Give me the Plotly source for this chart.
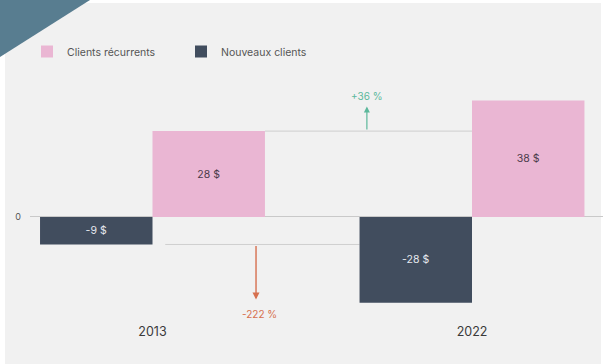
import plotly.graph_objects as go

years = ["2013", "2022"]
recurrents = [28, 38]
nouveaux = [-9, -28]
rec_labels = ["28 $", "38 $"]
new_labels = ["-9 $", "-28 $"]
change_rec = "+36 %"
change_new = "-222 %"

W, H = 603, 364
L, R, T, B = 30, 0, 30, 46
pw, ph = W - L - R, H - T - B
x_range = [-0.3834, 1.41]
y_range = [-33, 61]
bargap = 0.296
half = (1 - bargap) / 2

PINK = "#eab6d3"
NAVY = "#414d5e"
GREEN = "#5cb89b"
RED = "#d6704f"

xs = list(range(len(years)))

fig = go.Figure()
fig.add_trace(go.Bar(
    x=xs, y=nouveaux, name="Nouveaux clients", marker_color=NAVY, legend="legend2", showlegend=True,
    text=new_labels, textposition="inside", insidetextanchor="middle",
    textfont=dict(color="#e6e9ee", size=10.5, family="Inter"), marker_line_width=0,
))
fig.add_trace(go.Bar(
    x=xs, y=recurrents, name="Clients récurrents", marker_color=PINK, legend="legend", showlegend=True,
    text=rec_labels, textposition="inside", insidetextanchor="middle",
    textfont=dict(color="#4a3b4a", size=10.5, family="Inter"), marker_line_width=0,
))

def px_x(p):
    return (p - L) / pw

def px_y(p):
    return 1 - (p - T) / ph

shapes = [
    dict(type="rect", xref="paper", yref="paper", x0=px_x(5), x1=px_x(601), y0=px_y(364), y1=px_y(3),
         fillcolor="#f1f1f1", line_width=0, layer="below"),
    dict(type="path", xref="paper", yref="paper",
         path=f"M {px_x(0)},{px_y(0)} L {px_x(90)},{px_y(0)} L {px_x(0)},{px_y(57)} Z",
         fillcolor="#587d90", line_width=0, layer="above"),
    dict(type="line", xref="x", yref="y", x0=xs[0] + half, x1=xs[1], y0=recurrents[0], y1=recurrents[0],
         line=dict(color="#cfcfcf", width=1), layer="below"),
    dict(type="line", xref="x", yref="y", x0=xs[0] + 0.04, x1=xs[1] - half, y0=nouveaux[0], y1=nouveaux[0],
         line=dict(color="#cfcfcf", width=1), layer="below"),
]

annotations = [
    dict(x=0.671, y=36.0, ax=0.671, ay=recurrents[0], xref="x", yref="y", axref="x", ayref="y",
         showarrow=True, arrowhead=2, arrowsize=1, arrowwidth=1.2, arrowcolor=GREEN, text=""),
    dict(x=0.671, y=39.3, xref="x", yref="y", text=change_rec, showarrow=False,
         font=dict(color=GREEN, size=10, family="Inter")),
    dict(x=0.324, y=-27.0, ax=0.324, ay=nouveaux[0], xref="x", yref="y", axref="x", ayref="y",
         showarrow=True, arrowhead=2, arrowsize=1, arrowwidth=1.4, arrowcolor=RED, text=""),
    dict(x=0.335, y=-31.8, xref="x", yref="y", text=change_new, showarrow=False,
         font=dict(color=RED, size=10, family="Inter")),
]

legend_style = dict(orientation="h", xanchor="left", yanchor="top", visible=True,
                    font=dict(size=10.5, color="#555", family="Inter"),
                    bgcolor="rgba(0,0,0,0)", itemwidth=30)

fig.update_layout(
    width=W, height=H, margin=dict(l=L, r=R, t=T, b=B),
    paper_bgcolor="white", plot_bgcolor="rgba(0,0,0,0)",
    barmode="group", bargap=bargap, bargroupgap=0,
    shapes=shapes, annotations=annotations, showlegend=True,
    legend=dict(x=px_x(27), y=px_y(37), **legend_style),
    legend2=dict(x=px_x(181), y=px_y(37), **legend_style),
    font=dict(family="Inter"),
    uniformtext=dict(mode="show", minsize=8),
)
fig.update_xaxes(range=x_range, tickvals=xs, ticktext=years, showgrid=False, zeroline=False,
                 showline=False, ticks="", tickfont=dict(size=12.5, color="#3a3a3a"),
                 ticklabelstandoff=4)
fig.update_yaxes(range=y_range, tickvals=[0], ticktext=["0"], showgrid=False, zeroline=True,
                 zerolinecolor="#c9c9c9", zerolinewidth=1, showline=False, ticks="",
                 tickfont=dict(size=9, color="#555"), ticklabelstandoff=8)

fig.write_html("out.html")
